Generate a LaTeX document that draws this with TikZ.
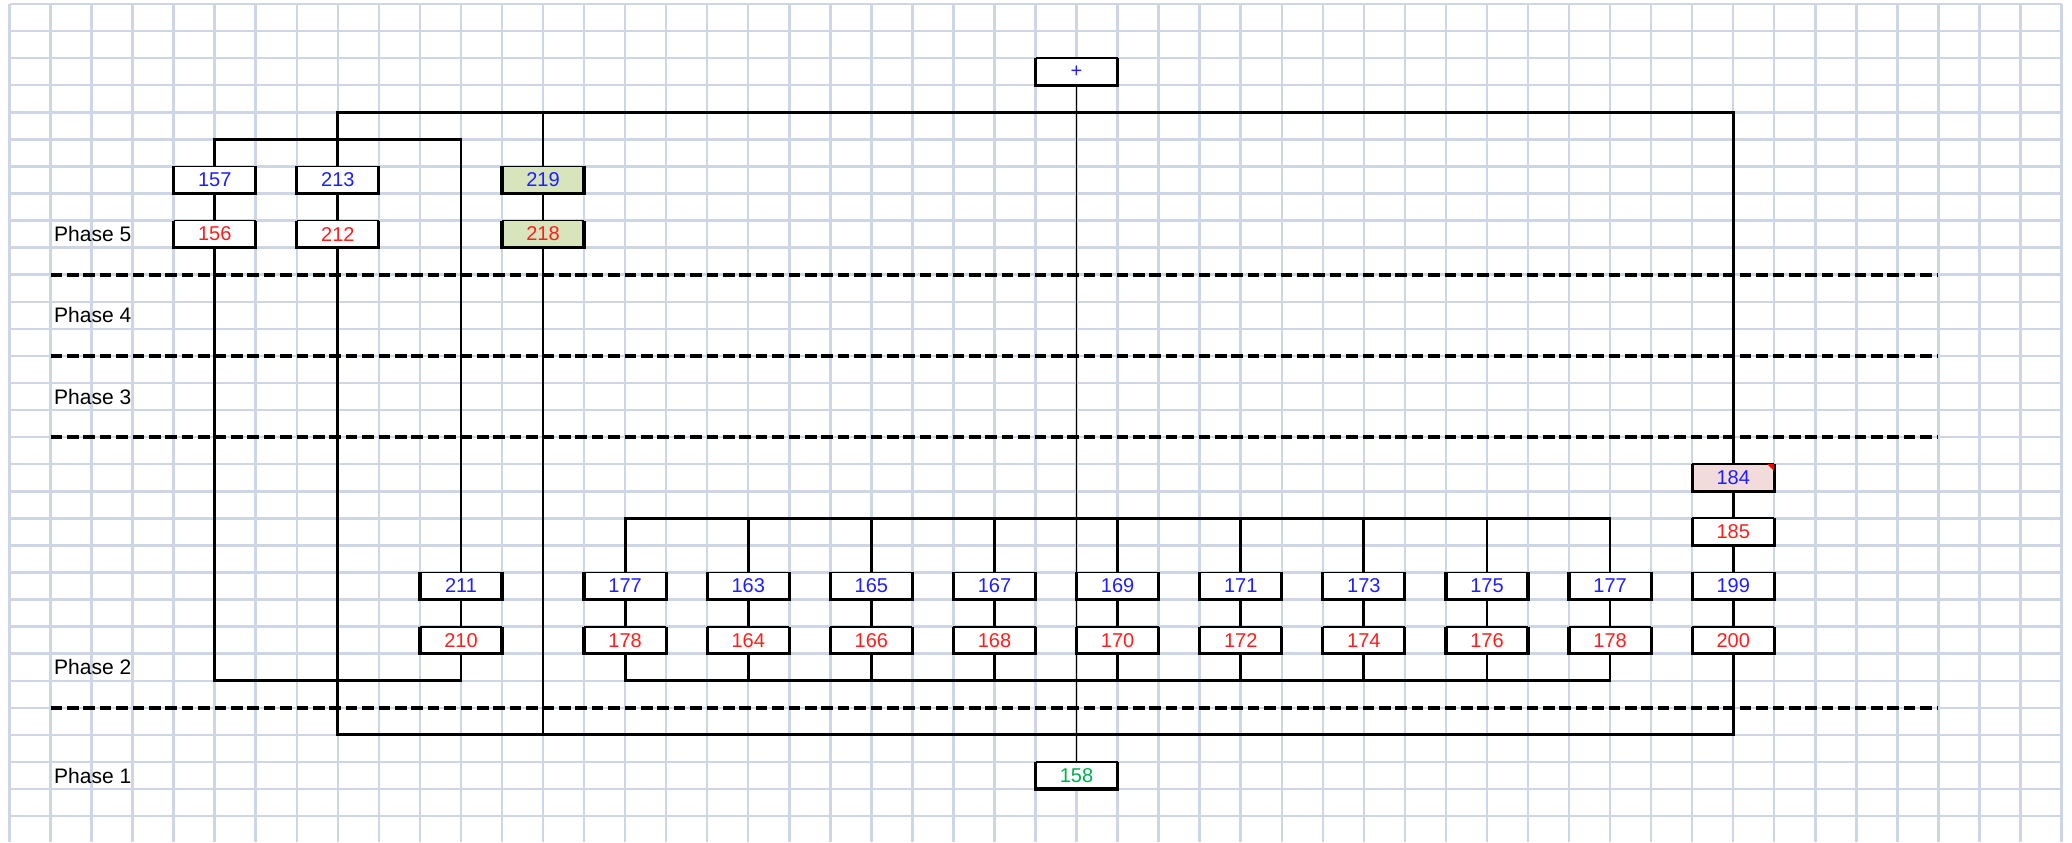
\documentclass[tikz,border=0pt]{standalone}
\usepackage{fontspec}
\setmainfont{Liberation Sans}
\usetikzlibrary{calc}
\definecolor{gridc}{RGB}{206,214,230}
\definecolor{bluetxt}{RGB}{30,30,255}
\definecolor{redtxt}{RGB}{255,30,30}
\definecolor{greentxt}{RGB}{0,176,80}
\definecolor{greenfill}{RGB}{216,228,188}
\definecolor{pinkfill}{RGB}{242,220,219}
\tikzset{
  gridline/.style={draw=gridc, line width=1.25pt},
  boxnode/.style={inner sep=0pt, outer sep=0pt, minimum width=41.04pt, minimum height=13.535pt,
    font=\fontsize{10}{12}\selectfont},
  boxthin/.style={line width=0.9pt},
  boxthick/.style={line width=1.6pt},
  conn/.style={line width=1.4pt},
  thinconn/.style={line width=0.6pt},
  phasesep/.style={line width=2.1pt, dash pattern=on 5.8pt off 2.4pt},
  phaselabel/.style={anchor=west, inner sep=0pt, font=\fontsize{10.5}{12}\selectfont}
}
\newcommand{\bx}[6]{%
  \node[boxnode, fill=#6, text=#5] (#1) at ({#2+1},{#3+0.5}) {#4};
  \draw[boxthin] (#1.north west) -- (#1.north east);
  \draw[boxthick] (#1.north west) -- (#1.south west) -- (#1.south east) -- (#1.north east);
}
\begin{document}
\begin{tikzpicture}[x=20.52pt, y=-13.535pt]
\useasboundingbox (-0.2315,-0.1478) rectangle (50.256,30.957);
\fill[white] (-0.2315,-0.1478) rectangle (50.256,30.957);
% grid
\foreach \i in {0,...,50} \draw[gridline] (\i,0) -- (\i,30.957);
\foreach \j in {0,...,30} \draw[gridline] (0,\j) -- (50,\j);

% phase separators
\draw[phasesep] (1,10) -- (47,10);
\draw[phasesep] (1,13) -- (47,13);
\draw[phasesep] (1,16) -- (47,16);
\draw[phasesep] (1,26) -- (47,26);

% phase labels
\node[phaselabel] (p5) at (1.08,8.5) {Phase 5};
\node[phaselabel] (p4) at (1.08,11.5) {Phase 4};
\node[phaselabel] (p3) at (1.08,14.5) {Phase 3};
\node[phaselabel] (p2) at (1.08,24.5) {Phase 2};
\node[phaselabel] (p1) at (1.08,28.5) {Phase 1};

% junction coordinates
\coordinate (a1) at (11,5);
\coordinate (b1) at (11,25);
\coordinate (c1) at (42,4);
\coordinate (d1) at (42,27);
\coordinate (t1) at (15,19);
\coordinate (t2) at (39,19);
\coordinate (u1) at (15,25);
\coordinate (u2) at (39,25);

% boxes
\bx{nplus}{25}{2}{+}{bluetxt}{white}
\bx{n157}{4}{6}{157}{bluetxt}{white}
\bx{n156}{4}{8}{156}{redtxt}{white}
\bx{n213}{7}{6}{213}{bluetxt}{white}
\bx{n212}{7}{8}{212}{redtxt}{white}
\bx{n219}{12}{6}{219}{bluetxt}{greenfill}
\bx{n218}{12}{8}{218}{redtxt}{greenfill}
\bx{n184}{41}{17}{184}{bluetxt}{pinkfill}
\bx{n185}{41}{19}{185}{redtxt}{white}
\bx{n211}{10}{21}{211}{bluetxt}{white}
\bx{n210}{10}{23}{210}{redtxt}{white}
\bx{nA177}{14}{21}{177}{bluetxt}{white}
\bx{nA178}{14}{23}{178}{redtxt}{white}
\bx{n163}{17}{21}{163}{bluetxt}{white}
\bx{n164}{17}{23}{164}{redtxt}{white}
\bx{n165}{20}{21}{165}{bluetxt}{white}
\bx{n166}{20}{23}{166}{redtxt}{white}
\bx{n167}{23}{21}{167}{bluetxt}{white}
\bx{n168}{23}{23}{168}{redtxt}{white}
\bx{n169}{26}{21}{169}{bluetxt}{white}
\bx{n170}{26}{23}{170}{redtxt}{white}
\bx{n171}{29}{21}{171}{bluetxt}{white}
\bx{n172}{29}{23}{172}{redtxt}{white}
\bx{n173}{32}{21}{173}{bluetxt}{white}
\bx{n174}{32}{23}{174}{redtxt}{white}
\bx{n175}{35}{21}{175}{bluetxt}{white}
\bx{n176}{35}{23}{176}{redtxt}{white}
\bx{nB177}{38}{21}{177}{bluetxt}{white}
\bx{nB178}{38}{23}{178}{redtxt}{white}
\bx{n199}{41}{21}{199}{bluetxt}{white}
\bx{n200}{41}{23}{200}{redtxt}{white}
\bx{n158}{25}{28}{158}{greentxt}{white}

% comment marker on 184
\fill[red] (n184.north east) -- ($(n184.north east)+(-0.17,0)$) -- ($(n184.north east)+(0,0.26)$) -- cycle;

% connectors
\draw[conn] (n157.north) |- (a1) -- (n211.north);
\draw[conn] (n157.south) -- (n156.north);
\draw[conn] (n156.south) |- (b1) -- (n210.south);
\draw[conn] (n211.south) -- (n210.north);
\draw[conn] (n213.north) |- (c1) -- (n184.north);
\draw[conn] (n219.north) -- (n219.north |- c1);
\draw[conn] (n213.south) -- (n212.north);
\draw[conn] (n219.south) -- (n218.north);
\draw[conn] (n212.south) |- (d1) -- (n200.south);
\draw[conn] (n218.south) -- (n218.south |- d1);
\draw[conn] (n184.south) -- (n185.north);
\draw[conn] (n185.south) -- (n199.north);
\draw[conn] (n199.south) -- (n200.north);
% group of pairs
\draw[conn] (nA177.north) -- (t1) -- (t2) -- (nB177.north);
\draw[conn] (nA178.south) -- (u1) -- (u2) -- (nB178.south);
\foreach \u/\l in {nA177/nA178,n163/n164,n165/n166,n167/n168,n169/n170,n171/n172,n173/n174,n175/n176,nB177/nB178}{
  \draw[conn] (\u.south) -- (\l.north);
}
\foreach \u in {n163,n165,n167,n169,n171,n173,n175}{
  \draw[conn] (\u.north) -- (\u.north |- t1);
}
\foreach \l in {n164,n166,n168,n170,n172,n174,n176}{
  \draw[conn] (\l.south) -- (\l.south |- u1);
}
% plus line
\draw[thinconn] (nplus.south) -- (n158.north);
\end{tikzpicture}
\end{document}
